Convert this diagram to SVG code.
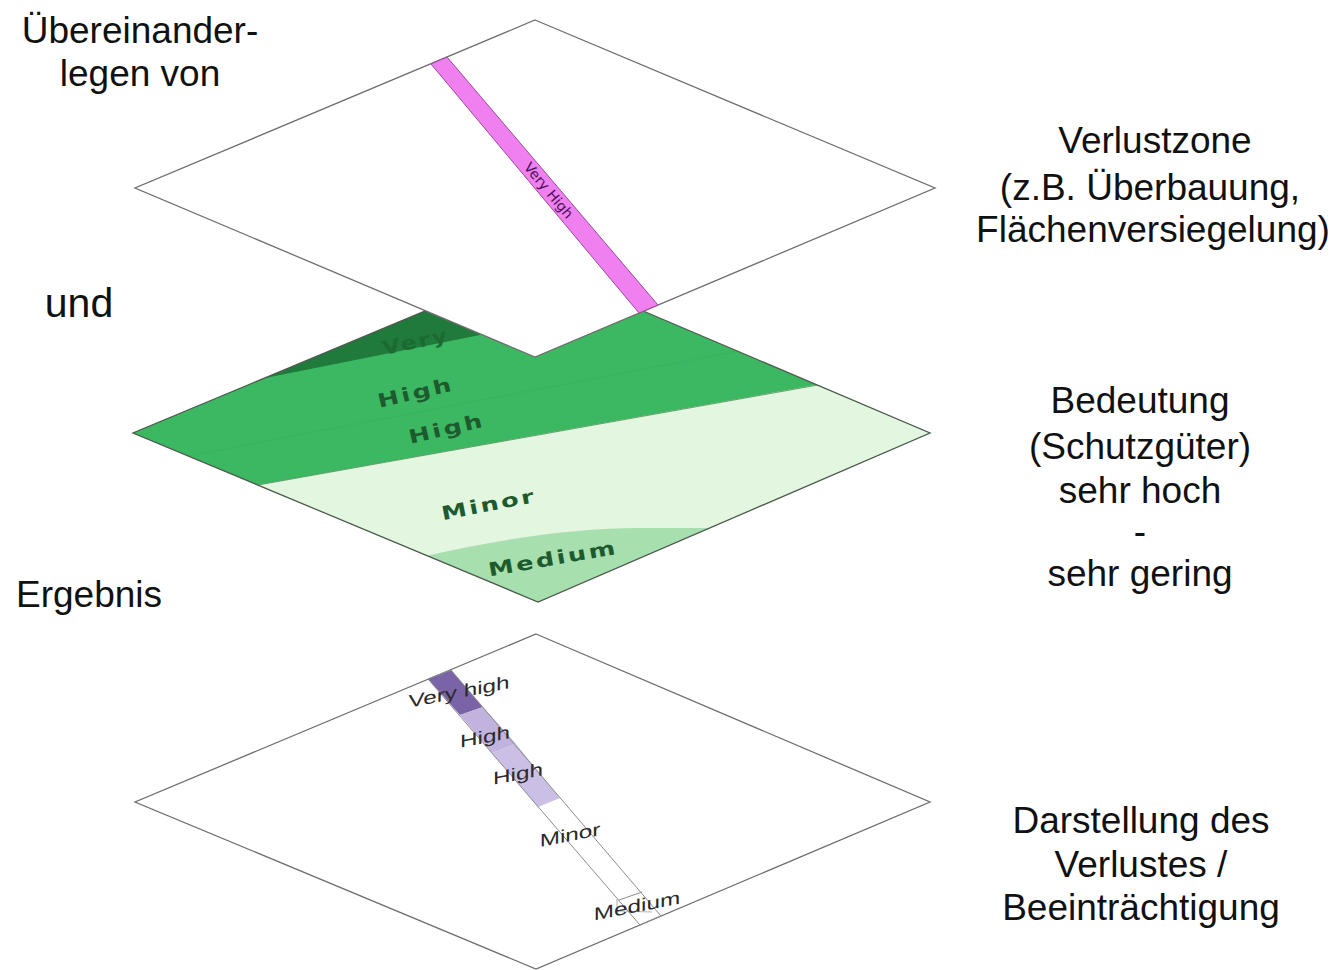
<svg xmlns="http://www.w3.org/2000/svg" width="1337" height="970" viewBox="0 0 1337 970">
<style>
.cap{font-family:"Liberation Sans","Noto Sans",sans-serif;font-size:37px;fill:#111;text-anchor:middle}
.edge{fill:#fff;stroke:#6e6e6e;stroke-width:1.3}
.gl{font-family:"DejaVu Sans","Liberation Sans",sans-serif;font-weight:bold;font-size:19px;letter-spacing:2px;fill:#1d5a2e;text-anchor:middle}
.pl{font-family:"Liberation Sans","DejaVu Sans",sans-serif;font-size:18px;fill:#2a2a2a;text-anchor:middle}
</style>
<defs>
<clipPath id="midclip"><polygon points="535,265 930,433 538,602 133,433"/></clipPath>
</defs>
<rect width="1337" height="970" fill="#fff"/>

<g id="layer-bottom">
<polygon class="edge" points="536,634 930,802 536,969 135,802"/>
<polygon points="428,679 451,670 483,707 460,715" fill="#7a64a7"/>
<polygon points="460,715 483,707 516,744 492,753" fill="#c2b3de"/>
<polygon points="492,753 516,744 560,798 538,807" fill="#cbbfe5"/>
<polygon points="428,679 451,670 661,916 640,925" fill="none" stroke="#8c8c8c" stroke-width="1"/>
<line x1="619" y1="900" x2="642" y2="892" stroke="#8c8c8c" stroke-width="1"/>
<polyline points="617,899 617,911 652,912" fill="none" stroke="#a0a0a0" stroke-width="0.8"/>
<text class="pl" transform="translate(459,698) skewY(-11) scale(1.35,1)">Very high</text>
<text class="pl" transform="translate(485,743) skewY(-11) scale(1.35,1)">High</text>
<text class="pl" transform="translate(518,780) skewY(-11) scale(1.35,1)">High</text>
<text class="pl" transform="translate(570,841) skewY(-11) scale(1.35,1)">Minor</text>
<text class="pl" transform="translate(637,912) skewY(-11) scale(1.35,1)">Medium</text>
</g>

<g id="layer-middle">
<g clip-path="url(#midclip)">
<rect x="100" y="200" width="900" height="500" fill="#3db862"/>
<polygon points="100,411 700,291 700,200 100,200" fill="#1f7a3b"/>
<polygon points="100,513 1000,352 1000,700 100,700" fill="#e3f6df"/>
<path d="M400,566 L430,555 C500,539 575,528 640,528 L1000,528 L1000,700 L400,700 Z" fill="#a8dfae"/>
<line x1="188" y1="456" x2="739" y2="351" stroke="#39b25e" stroke-width="1"/>
<line x1="258" y1="485" x2="818" y2="385" stroke="#4a8a55" stroke-width="0.8"/>
</g>
<polygon points="535,265 930,433 538,602 133,433" fill="none" stroke="#4d5a4f" stroke-width="1.3"/>
<text class="gl" transform="translate(417,348) rotate(-12) scale(1.2,1)" style="fill:#1a6a31">Very</text>
<text class="gl" transform="translate(417,399) rotate(-13) scale(1.35,1)">High</text>
<text class="gl" transform="translate(448,435) rotate(-13) scale(1.35,1)">High</text>
<text class="gl" transform="translate(490,511) rotate(-11) scale(1.35,1)">Minor</text>
<text class="gl" transform="translate(554,565) rotate(-10) scale(1.35,1)">Medium</text>
</g>

<g id="layer-top">
<polygon class="edge" points="535,20 935,188 535,357 135,188"/>
<polygon points="431,64 447,57 658,305 639,313" fill="#f07ff0" stroke="#9a4a9a" stroke-width="1"/>
<text transform="translate(548,191) rotate(50)" style="font-family:'DejaVu Sans',sans-serif;font-size:14px;fill:#4a1058;text-anchor:middle;dominant-baseline:middle">Very High</text>
</g>

<g id="captions">
<text class="cap" x="140" y="43">Übereinander-</text>
<text class="cap" x="140" y="86">legen von</text>
<text class="cap" x="79" y="317" style="font-size:41px">und</text>
<text class="cap" x="89" y="607">Ergebnis</text>
<text class="cap" x="1155" y="153">Verlustzone</text>
<text class="cap" x="1150" y="200">(z.B. Überbauung,</text>
<text class="cap" x="1153" y="242">Flächenversiegelung)</text>
<text class="cap" x="1140" y="413">Bedeutung</text>
<text class="cap" x="1140" y="459">(Schutzgüter)</text>
<text class="cap" x="1140" y="503">sehr hoch</text>
<text class="cap" x="1140" y="544">-</text>
<text class="cap" x="1140" y="586">sehr gering</text>
<text class="cap" x="1141" y="833">Darstellung des</text>
<text class="cap" x="1141" y="877">Verlustes /</text>
<text class="cap" x="1141" y="920">Beeinträchtigung</text>
</g>
</svg>
